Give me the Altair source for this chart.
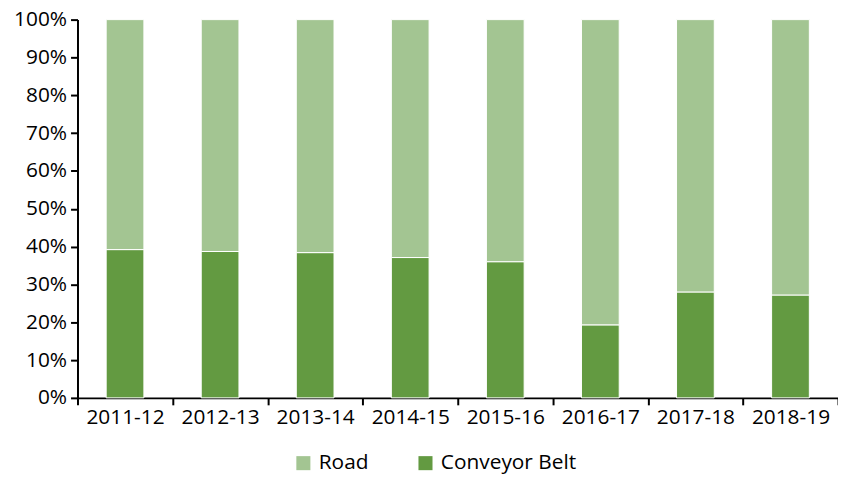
import altair as alt
import pandas as pd

years = ["2011-12", "2012-13", "2013-14", "2014-15", "2015-16", "2016-17", "2017-18", "2018-19"]
conveyor = [39.2, 38.7, 38.4, 37.1, 36.0, 19.3, 28.0, 27.2]
road = [round(100 - v, 1) for v in conveyor]

rows = []
for y, c, r in zip(years, conveyor, road):
    rows.append({"year": y, "mode": "Conveyor Belt", "share": c, "ord": 0})
    rows.append({"year": y, "mode": "Road", "share": r, "ord": 1})
df = pd.DataFrame(rows)

font = "Open Sans"

chart = alt.Chart(df).mark_bar(size=38, stroke="white", strokeWidth=1).encode(
    x=alt.X("year:N", sort=years, title=None,
            scale=alt.Scale(paddingInner=0, paddingOuter=0),
            axis=alt.Axis(labelAngle=0, tickBand="extent", domainColor="black", tickColor="black",
                          domainWidth=2, tickWidth=2, tickSize=7, labelFontSize=21,
                          labelColor="black", labelFont=font, labelPadding=2)),
    y=alt.Y("share:Q", stack="zero", title=None,
            scale=alt.Scale(domain=[0, 100], nice=False),
            axis=alt.Axis(values=list(range(0, 101, 10)), labelExpr="datum.value + '%'",
                          grid=False, domainColor="black", tickColor="black", domainWidth=2,
                          tickWidth=2, tickSize=7, labelFontSize=21, labelColor="black",
                          labelFont=font, labelPadding=4)),
    color=alt.Color("mode:N", sort=["Road", "Conveyor Belt"],
                    scale=alt.Scale(domain=["Road", "Conveyor Belt"], range=["#a3c592", "#639a41"]),
                    legend=alt.Legend(title=None, orient="none", legendX=217, legendY=436,
                                      direction="horizontal", symbolType="square", symbolSize=200,
                                      symbolStrokeWidth=0, labelFontSize=21, labelFont=font,
                                      labelColor="black", columnPadding=46, labelOffset=5,
                                      padding=0, symbolOpacity=1)),
    order=alt.Order("ord:Q", sort="ascending"),
).properties(
    width=766, height=381,
    autosize=alt.AutoSizeParams(type="none"),
    padding={"left": 70, "top": 10, "right": 0, "bottom": 78},
).configure_view(stroke=None)

chart.save("out.html", embed_options={"renderer": "svg", "actions": False})
